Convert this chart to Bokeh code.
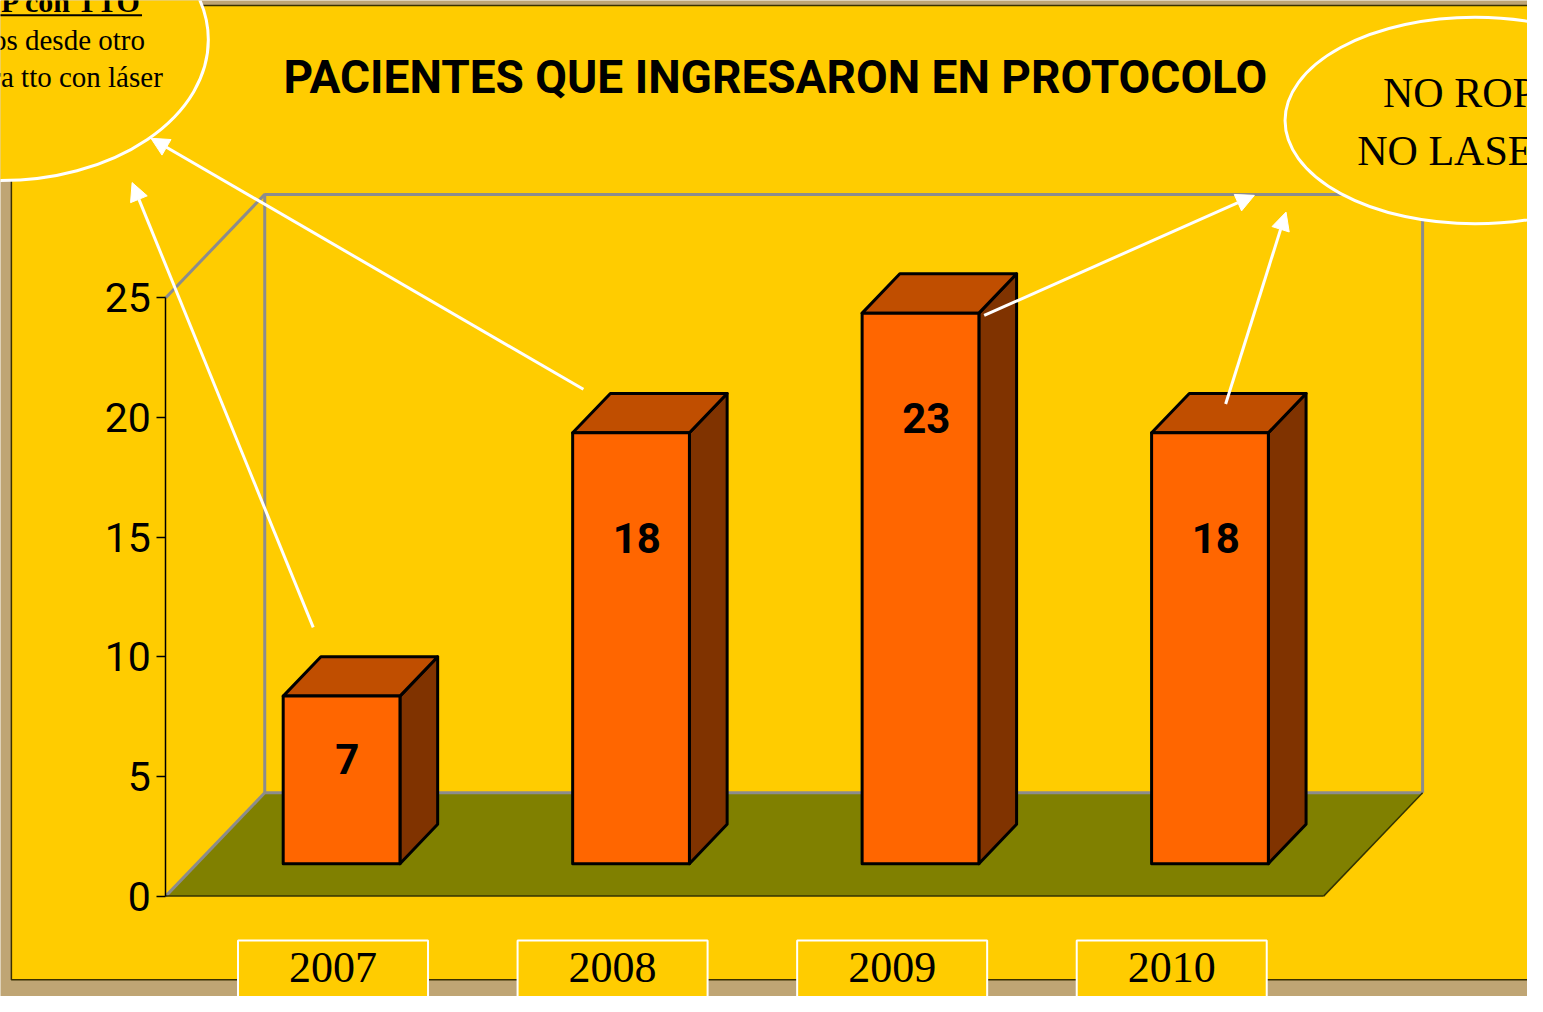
from bokeh.plotting import figure
from bokeh.models import Range1d, LinearAxis, FixedTicker, Arrow, NormalHead
from bokeh.core.properties import value
from bokeh.embed import file_html
from bokeh.resources import INLINE

# ---------------- data ----------------
YEARS = ["2007", "2008", "2009", "2010"]
PATIENTS = [7, 18, 23, 18]
TICKS = [0, 5, 10, 15, 20, 25]
TITLE = "PACIENTES QUE INGRESARON EN PROTOCOLO"
LEFT_NOTE = ["ROP con TTO", "Referidos desde otro", "centro para tto con láser"]
RIGHT_NOTE = ["NO ROP", "NO LASER"]

# ---------------- layout ----------------
REF_W, REF_H = 1543, 1012
OX, OY = 167, 910            # reference px of the front-left floor corner (value 0)
SX, SY = 292.5, 24.32        # reference px per category / per unit
DX, DY = 100 / SX, 105 / SY  # 3-D depth offset
F0, F1 = 0.314, 0.695        # bar front / back depth fractions
HW = 0.2017                  # half bar width (category units)
NCAT = len(YEARS)
YMAX = TICKS[-1]

YELLOW = "#FFCC00"
TAN = "#BFA574"
OLIVE = "#808000"
WALL = "#8C8C8C"
FRONT = "#FF6600"
TOP = "#C04E00"
SIDE = "#803300"
SANS = "Roboto"
SERIF = "Liberation Serif"


def X(px):
    return (px - OX) / SX


def Y(py):
    return (OY - py) / SY


p = figure(width=1527, height=996,
           x_range=Range1d(X(0), X(REF_W)), y_range=Range1d(Y(REF_H), Y(0)),
           x_axis_type=None, y_axis_type=None,
           toolbar_location=None, output_backend="svg", min_border=0)
p.outline_line_color = None
p.background_fill_color = TAN
p.border_fill_color = TAN

# slide
p.quad(left=X(11), right=X(1600), top=Y(5), bottom=Y(995),
       fill_color=YELLOW, line_color="#3A3000", line_width=1.5)

# year boxes
for i, yr in enumerate(YEARS):
    cx = 336 + i * 282.5
    p.quad(left=X(cx - 96), right=X(cx + 96), top=Y(955), bottom=Y(1040),
           fill_color=YELLOW, line_color="white", line_width=2)
    p.text(x=[X(cx)], y=[Y(983)], text=[yr], text_align="center",
           text_baseline="middle", text_font=value(SERIF),
           text_font_size="44px", text_color="black")

# floor
p.patch([0, NCAT, NCAT + DX, DX], [0, 0, DY, DY], fill_color=OLIVE, line_color=None)
# walls
p.multi_line(xs=[[DX, DX, NCAT + DX, NCAT + DX], [0, DX], [0, DX], [DX, NCAT + DX]],
             ys=[[DY, YMAX + DY, YMAX + DY, DY], [YMAX, YMAX + DY], [0, DY], [DY, DY]],
             line_color=WALL, line_width=3)
p.multi_line(xs=[[0, NCAT], [NCAT, NCAT + DX]], ys=[[0, 0], [0, DY]],
             line_color="#333300", line_width=1.5)

# axis
ax = LinearAxis(fixed_location=0, bounds=(0, YMAX), ticker=FixedTicker(ticks=TICKS))
ax.axis_line_color = "black"
ax.axis_line_width = 1.5
ax.major_tick_line_color = "black"
ax.major_tick_line_width = 1.5
ax.major_tick_out = 9
ax.major_tick_in = 0
ax.minor_tick_line_color = None
ax.major_label_standoff = 6
ax.major_label_text_font = SANS
ax.major_label_text_font_size = "41px"
ax.major_label_text_color = "black"
p.add_layout(ax, "left")

# bars
ddx, ddy = (F1 - F0) * DX, (F1 - F0) * DY
fx, fy = [], []
tx, ty = [], []
sx, sy = [], []
lx, ly, lt = [], [], []
for i, v in enumerate(PATIENTS):
    L = i + 0.5 - HW + F0 * DX
    R = i + 0.5 + HW + F0 * DX
    B = F0 * DY
    T = v + F0 * DY
    fx.append([L, R, R, L]); fy.append([B, B, T, T])
    tx.append([L, R, R + ddx, L + ddx]); ty.append([T, T, T + ddy, T + ddy])
    sx.append([R, R + ddx, R + ddx, R]); sy.append([B, B + ddy, T + ddy, T])
    lx.append(i + 0.5 + F0 * DX + 0.02)
    ly.append(B + v - min(4.4, 0.375 * v))
    lt.append(str(v))
p.patches(sx, sy, fill_color=SIDE, line_color="black", line_width=3, line_join="round")
p.patches(tx, ty, fill_color=TOP, line_color="black", line_width=3, line_join="round")
p.patches(fx, fy, fill_color=FRONT, line_color="black", line_width=3, line_join="round")
p.text(x=lx, y=ly, text=lt, text_align="center", text_baseline="middle",
       text_font=value(SANS), text_font_style="bold", text_font_size="42px",
       text_color="black")

# ellipses with notes
p.ellipse(x=[X(0)], y=[Y(40)], width=2 * 210 / SX, height=2 * 143 / SY,
          fill_color=YELLOW, line_color="white", line_width=3)
p.ellipse(x=[X(1490)], y=[Y(122)], width=2 * 192 / SX, height=2 * 105 / SY,
          fill_color=YELLOW, line_color="white", line_width=3)

p.text(x=[X(143)], y=[Y(1)], text=[LEFT_NOTE[0]], text_align="right",
       text_baseline="middle", text_font=value(SERIF), text_font_style="bold",
       text_font_size="30px", text_color="black")
p.segment(x0=[X(-60)], y0=[Y(15)], x1=[X(143)], y1=[Y(15)], line_color="black", line_width=2)
p.text(x=[X(146), X(164)], y=[Y(40), Y(78)], text=LEFT_NOTE[1:], text_align="right",
       text_baseline="middle", text_font=value(SERIF),
       text_font_size="29px", text_color="black")
p.text(x=[X(1397), X(1371)], y=[Y(94), Y(153)], text=RIGHT_NOTE, text_align="left",
       text_baseline="middle", text_font=value(SERIF),
       text_font_size="42px", text_color="black")

# arrows
for (x0, y0, x1, y1) in [(316, 637, 133, 185), (589, 395, 152, 140),
                         (994, 320, 1267, 198), (1238, 410, 1299, 215)]:
    p.add_layout(Arrow(end=NormalHead(size=18, fill_color="white", line_color="white"),
                       x_start=X(x0), y_start=Y(y0), x_end=X(x1), y_end=Y(y1),
                       line_color="white", line_width=3))

# title
p.text(x=[X(783)], y=[Y(78)], text=[TITLE], text_align="center",
       text_baseline="middle", text_font=value(SANS), text_font_style="bold",
       text_font_size="46px", text_color="black")

open("out.html", "w").write(file_html(p, INLINE))
